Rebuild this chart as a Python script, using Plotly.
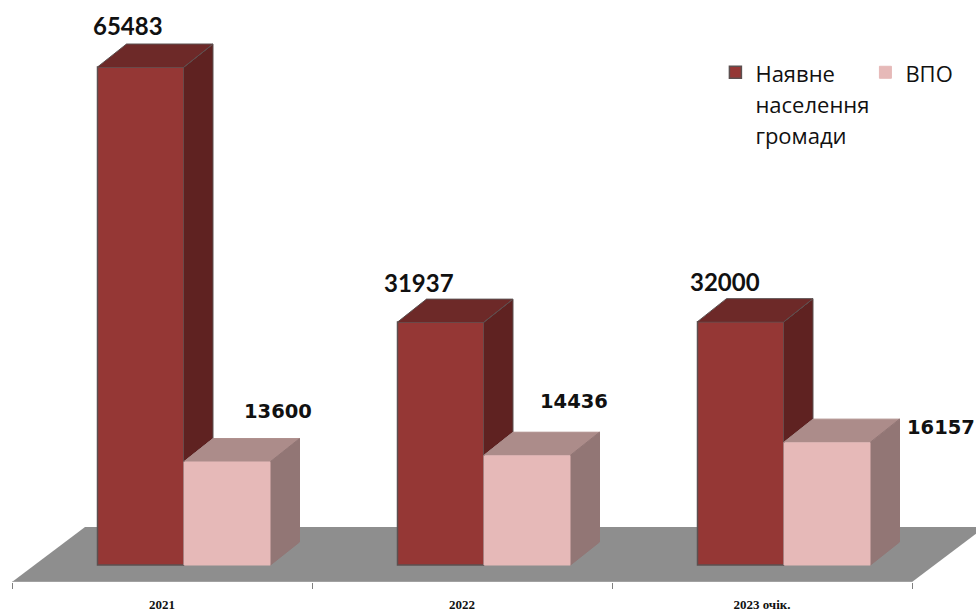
import plotly.graph_objects as go

categories = ["2021", "2022", "2023 очік."]
positions = [0, 1, 2]
population = [65483, 31937, 32000]
idp = [13600, 14436, 16157]
# blank lines keep the legend swatch on the first text line
series_names = ["<span style='font-size:22px'><br><br>Наявне<br>населення<br>громади</span>",
                "<span style='font-size:22px'><br><br>ВПО<br><br> </span>"]

# pseudo 3d sizes, x in category units, y in people
PX_X = 1 / 300
PX_Y = 65483 / 498
BAR_W = 86.5 * PX_X
DEPTH_X = 29 * PX_X
DEPTH_Y = 23 * PX_Y
SHIFT = 22 * PX_X

FLOOR_Y = -17 * PX_Y
FLOOR_BACK = 38 * PX_Y
X_RANGE = [-0.5 - 12 * PX_X, -0.5 + 964 * PX_X]
Y_RANGE = [FLOOR_Y, 565 * PX_Y]

DARK = "#953735"
DARK_TOP = "#6d2928"
DARK_SIDE = "#5f2221"
PINK = "#e6b9b8"
PINK_TOP = "#ac8c8a"
PINK_SIDE = "#927675"
EDGE = "#5c5050"
FLOOR = "#8e8e8e"


def face(fig, xs, ys, color, edge=None):
    fig.add_trace(go.Scatter(x=xs, y=ys, mode="lines", fill="toself", fillcolor=color,
                             line=dict(color=edge if edge else color, width=1),
                             showlegend=False, hoverinfo="skip"))


fig = go.Figure()

# floor under the bars
fig.add_shape(type="path", layer="below", xref="x", yref="y", line_width=0, fillcolor=FLOOR,
              path=f"M {-0.5} {FLOOR_Y} L {-0.5 + 73 * PX_X} {FLOOR_BACK} "
                   f"L {2.5 + 73 * PX_X} {FLOOR_BACK} L {2.5} {FLOOR_Y} Z")

fig.add_trace(go.Bar(x=[p + SHIFT - BAR_W / 2 for p in positions], y=population, width=BAR_W,
                     name=series_names[0], marker=dict(color=DARK, line=dict(color=EDGE, width=1.5))))
fig.add_trace(go.Bar(x=[p + SHIFT + BAR_W / 2 for p in positions], y=idp, width=BAR_W,
                     name=series_names[1], marker=dict(color=PINK, line=dict(color=PINK, width=1))))

for p, dark, pink in zip(positions, population, idp):
    left = p + SHIFT - BAR_W
    mid = p + SHIFT
    right = p + SHIFT + BAR_W
    # dark side only visible above the pink bar
    face(fig, [mid, mid + DEPTH_X, mid + DEPTH_X, mid],
         [dark, dark + DEPTH_Y, pink + DEPTH_Y, pink], DARK_SIDE, EDGE)
    face(fig, [left, left + DEPTH_X, mid + DEPTH_X, mid],
         [dark, dark + DEPTH_Y, dark + DEPTH_Y, dark], DARK_TOP, EDGE)
    face(fig, [mid, mid + DEPTH_X, right + DEPTH_X, right],
         [pink, pink + DEPTH_Y, pink + DEPTH_Y, pink], PINK_TOP)
    face(fig, [right, right + DEPTH_X, right + DEPTH_X, right],
         [pink, pink + DEPTH_Y, DEPTH_Y, 0], PINK_SIDE)

# axis line
fig.add_trace(go.Scatter(x=[-0.5, 2.5], y=[FLOOR_Y, FLOOR_Y], mode="lines", showlegend=False,
                         line=dict(color="#b5b5b5", width=1), hoverinfo="skip"))

dark_shift = [(-13, 42), (-22, 40), (-16, 40)]
pink_shift = [(51, 50), (47, 54), (114, 15)]
for p, val, off in zip(positions, population, dark_shift):
    fig.add_annotation(x=p + SHIFT - BAR_W / 2, y=val, text=f"<b>{val}</b>", showarrow=False,
                       xshift=off[0], yshift=off[1], font=dict(family="Lato", size=24, color="#111111"))
for p, val, off in zip(positions, idp, pink_shift):
    fig.add_annotation(x=p + SHIFT + BAR_W / 2, y=val, text=f"<b>{val}</b>", showarrow=False,
                       xshift=off[0], yshift=off[1], font=dict(family="DejaVu Sans", size=19.5, color="#111111"))

fig.update_xaxes(range=X_RANGE, tickmode="array", tickvals=positions,
                 ticktext=[f"<b>{c}</b>" for c in categories],
                 ticks="", ticklabelstandoff=13, showgrid=False, zeroline=False, showline=False,
                 tickfont=dict(family="Liberation Serif", size=13, color="#111111"),
                 minor=dict(tickmode="array", tickvals=[-0.5, 0.5, 1.5, 2.5], ticks="outside",
                            ticklen=6, tickwidth=1, tickcolor="#808080", showgrid=False))
fig.update_yaxes(range=Y_RANGE, visible=False)

fig.update_layout(width=976, height=611, autosize=False, barmode="overlay", showlegend=True,
                  margin=dict(l=0, r=0, t=0, b=29, autoexpand=False), paper_bgcolor="white",
                  plot_bgcolor="rgba(0,0,0,0)", font=dict(family="Open Sans"),
                  legend=dict(orientation="h", x=0.733, y=1.021, xanchor="left", yanchor="top",
                              entrywidthmode="pixels", entrywidth=105, traceorder="normal",
                              font=dict(family="Open Sans", size=24, color="#111111"),
                              bgcolor="rgba(0,0,0,0)"))

fig.write_html("out.html", config={"displayModeBar": False},
               post_script="document.body.style.margin='0';document.body.style.overflow='hidden';")
